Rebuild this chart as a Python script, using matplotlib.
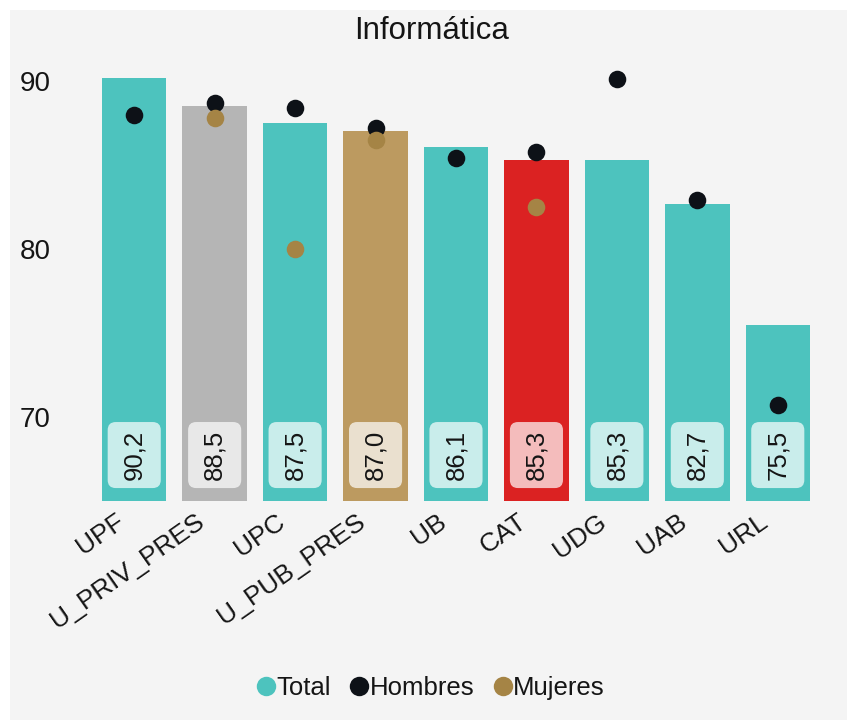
import matplotlib
matplotlib.use("Agg")
import matplotlib.pyplot as plt
import matplotlib.transforms as mtransforms
from matplotlib.patches import Rectangle, FancyBboxPatch
from matplotlib.lines import Line2D

plt.rcParams['font.family'] = ['Liberation Sans', 'DejaVu Sans']

#
##  Data
#
universidades = ["UPF", "U_PRIV_PRES", "UPC", "U_PUB_PRES", "UB", "CAT", "UDG", "UAB", "URL"]
total = [90.2, 88.5, 87.5, 87.0, 86.1, 85.3, 85.3, 82.7, 75.5]
hombres = [88.0, 88.7, 88.4, 87.2, 85.4, 85.8, 90.1, 82.9, 70.7]
mujeres = [None, 87.8, 80.0, 86.5, None, 82.5, None, None, None]
etiquetas = ["90,2", "88,5", "87,5", "87,0", "86,1", "85,3", "85,3", "82,7", "75,5"]

TEAL = "#4dc3be"
bar_colours = {"U_PRIV_PRES": "#b5b5b5", "U_PUB_PRES": "#bc9a60", "CAT": "#db2222"}
HOMBRES_C = "#0d1117"
MUJERES_C = "#a58445"
BG = "#f4f4f4"
TXT = "#151515"
BASE = 65

fig = plt.figure(figsize=(8.47, 7.2), dpi=100, facecolor="white")
fig.patches.append(Rectangle((10 / 847, 0), 1, 710 / 720, transform=fig.transFigure,
                             facecolor=BG, edgecolor="none", zorder=-10))
ax = fig.add_axes([94 / 847, 219 / 720, 724 / 847, 436.8 / 720])
ax.set_facecolor(BG)

x = list(range(len(universidades)))
colours = [bar_colours.get(u, TEAL) for u in universidades]
ax.bar(x, [t - BASE for t in total], bottom=BASE, width=0.8, color=colours, zorder=1)

# value labels inside bars (box in data units, rounding corrected for aspect)
aspect = (724 / 9) / (436.8 / 26)
for i, lab in enumerate(etiquetas):
    box = FancyBboxPatch((i - 0.33, 65.77), 0.66, 3.93,
                         boxstyle="round,pad=0,rounding_size=0.1",
                         mutation_aspect=aspect, fc="white", alpha=0.7, ec="none", zorder=2)
    ax.add_patch(box)
    ax.text(i, 67.73, lab, rotation=90, ha="center", va="center", fontsize=18.5,
            color=TXT, zorder=3)

ax.scatter(x, hombres, s=160, color=HOMBRES_C, zorder=4, linewidths=0)
mx = [i for i, m in enumerate(mujeres) if m is not None]
my = [m for m in mujeres if m is not None]
ax.scatter(mx, my, s=160, color=MUJERES_C, zorder=5, linewidths=0)

ax.set_xlim(-0.5, len(universidades) - 0.5)
ax.set_ylim(BASE, 91)
ax.set_yticks([70, 80, 90])
ax.tick_params(axis="y", length=0, pad=31, labelsize=20, colors=TXT)
ax.tick_params(axis="x", length=0, pad=6, labelsize=19, colors=TXT)
ax.set_xticks(x)
ax.set_xticklabels(universidades, rotation=35, ha="right", rotation_mode="anchor")
shift = mtransforms.ScaledTranslation(-14 / 72, 0, fig.dpi_scale_trans)
for lbl in ax.get_xticklabels():
    lbl.set_transform(lbl.get_transform() + shift)
for s in ax.spines.values():
    s.set_visible(False)

fig.text(0.509, 0.957, "Informática", ha="center", va="center", fontsize=22.5, color=TXT)

handles = [Line2D([], [], marker="o", ls="none", ms=14, color=c, mec="none")
           for c in (TEAL, HOMBRES_C, MUJERES_C)]
fig.legend(handles, ["Total", "Hombres", "Mujeres"], loc="center", bbox_to_anchor=(0.505, 0.044),
           ncol=3, frameon=False, fontsize=18.5, handletextpad=-0.2, columnspacing=0.5,
           handlelength=1.2, labelcolor=TXT)

fig.savefig("out.png", dpi=100, facecolor=fig.get_facecolor())
